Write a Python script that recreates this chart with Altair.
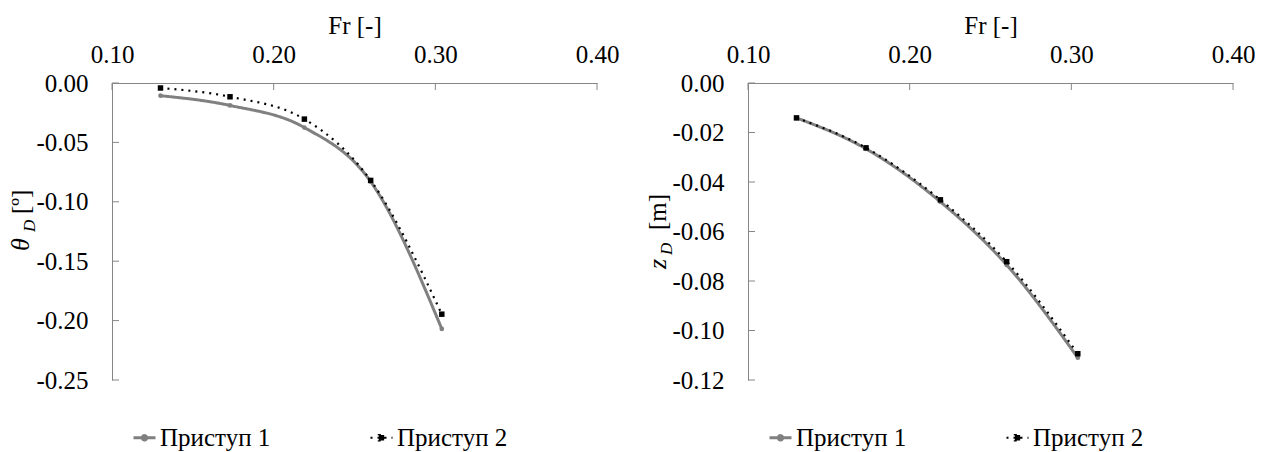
import altair as alt
import pandas as pd

# ---- data ----
fr = [0.13, 0.173, 0.219, 0.26, 0.304]
theta_p1 = [-0.0107, -0.0189, -0.0375, -0.0830, -0.2070]
theta_p2 = [-0.0042, -0.0116, -0.0304, -0.0820, -0.1946]
z_p1 = [-0.0141, -0.0266, -0.0480, -0.0735, -0.1110]
z_p2 = [-0.0141, -0.0262, -0.0472, -0.0722, -0.1094]
series = ["Приступ 1", "Приступ 2"]
x_ticks = [0.10, 0.20, 0.30, 0.40]
theta_ticks = [0.00, -0.05, -0.10, -0.15, -0.20, -0.25]
z_ticks = [0.00, -0.02, -0.04, -0.06, -0.08, -0.10, -0.12]

FONT = "Liberation Serif"
FS = 25
AX = "#868686"
W, H = 485, 297

# legend symbols: a short line with the series marker in its middle
SYM1 = "M-1,0L1,0M0.2,0A0.2,0.2,0,1,1,-0.2,0A0.2,0.2,0,1,1,0.2,0Z"
SYM2 = "M-1,0L1,0M-0.24,-0.24L0.24,-0.24L0.24,0.24L-0.24,0.24Z"


def panel(v1, v2, yticks, ymin, sym, tx, sym_y, d_y, unit, unit_y):
    df = pd.DataFrame({
        "Fr": fr + fr,
        "v": v1 + v2,
        "s": [series[0]] * len(fr) + [series[1]] * len(fr),
    })
    xscale = alt.Scale(domain=[0.1, 0.4], nice=False, zero=False)
    yscale = alt.Scale(domain=[ymin, 0.0], nice=False, zero=False)
    xaxis = alt.Axis(orient="top", values=x_ticks, format=".2f",
                     title="Fr [-]", labelPadding=16, titlePadding=4,
                     labelFlush=False)
    yaxis = alt.Axis(values=yticks, format=".2f", title=None,
                     labelPadding=24,
                     labelExpr="replace(datum.label, '\u2212', '-')")
    leg = alt.Legend(orient="none", legendX=20, legendY=342,
                     direction="horizontal", title=None,
                     symbolType={"expr": f"datum.index == 0 ? '{SYM1}' : '{SYM2}'"},
                     symbolFillColor={"expr": "datum.index == 0 ? '#808080' : '#000000'"},
                     symbolSize=484, symbolStrokeWidth=2.5,
                     labelFont=FONT, labelFontSize=FS, labelColor="black",
                     labelOffset=3, columnPadding=95, labelLimit=300)
    lines = alt.Chart(df).mark_line(interpolate="monotone").encode(
        x=alt.X("Fr:Q", scale=xscale, axis=xaxis),
        y=alt.Y("v:Q", scale=yscale, axis=yaxis),
        color=alt.Color("s:N", scale=alt.Scale(domain=series, range=["#808080", "#000000"]), legend=leg),
        strokeDash=alt.StrokeDash("s:N", scale=alt.Scale(domain=series, range=[[1, 0], [2, 5]]), legend=leg),
        strokeWidth=alt.StrokeWidth("s:N", scale=alt.Scale(domain=series, range=[3, 2.2]), legend=None),
    )
    p1 = alt.Chart(df).transform_filter(alt.datum.s == series[0]).mark_point(
        shape="circle", filled=True, color="#808080", size=22, opacity=1
    ).encode(x=alt.X("Fr:Q", scale=xscale, axis=xaxis), y=alt.Y("v:Q", scale=yscale, axis=yaxis))
    p2 = alt.Chart(df).transform_filter(alt.datum.s == series[1]).mark_point(
        shape="square", filled=True, color="#000000", size=30, opacity=1
    ).encode(x=alt.X("Fr:Q", scale=xscale, axis=xaxis), y=alt.Y("v:Q", scale=yscale, axis=yaxis))

    ytk = alt.Chart(pd.DataFrame({"Fr": [0.1] * len(yticks), "v": yticks})).mark_rule(
        color=AX, strokeWidth=1).encode(
        y=alt.Y("v:Q", scale=yscale, axis=yaxis), x=alt.value(0), x2=alt.value(7))
    xtk = alt.Chart(pd.DataFrame({"Fr": x_ticks, "v": [0.0] * len(x_ticks)})).mark_rule(
        color=AX, strokeWidth=1).encode(
        x=alt.X("Fr:Q", scale=xscale, axis=xaxis), y=alt.value(0), y2=alt.value(7))

    one = pd.DataFrame({"a": [0]})
    t1 = alt.Chart(one).mark_text(text=sym, font=FONT, fontSize=26, fontStyle="italic",
                                  angle=270, align="left", baseline="alphabetic",
                                  color="black").encode(x=alt.value(tx), y=alt.value(sym_y))
    t2 = alt.Chart(one).mark_text(text="D", font=FONT, fontSize=17, fontStyle="italic",
                                  angle=270, align="left", baseline="alphabetic",
                                  color="black").encode(x=alt.value(tx + 6), y=alt.value(d_y))
    t3 = alt.Chart(one).mark_text(text=unit, font=FONT, fontSize=FS,
                                  angle=270, align="left", baseline="alphabetic",
                                  color="black").encode(x=alt.value(tx), y=alt.value(unit_y))
    return alt.layer(lines, xtk, ytk, p1, p2, t1, t2, t3).properties(width=W, height=H)


left = panel(theta_p1, theta_p2, theta_ticks, -0.25, "θ", -83, 168, 149, "[º]", 131)
right = panel(z_p1, z_p2, z_ticks, -0.12, "z", -82, 186, 172, "[m]", 147)

chart = alt.hconcat(left, right, spacing=26).resolve_scale(
    color="independent", strokeDash="independent", strokeWidth="independent"
).properties(
    padding={"left": 0, "top": 5, "right": 0, "bottom": 0}
).configure_axis(
    labelFont=FONT, titleFont=FONT, labelFontSize=FS, titleFontSize=FS,
    labelColor="black", titleColor="black", domainColor=AX, domainWidth=1,
    ticks=False, grid=False, titleFontWeight="normal",
).configure_view(stroke=None)

chart.save("out.html", embed_options={"renderer": "svg", "actions": False})
